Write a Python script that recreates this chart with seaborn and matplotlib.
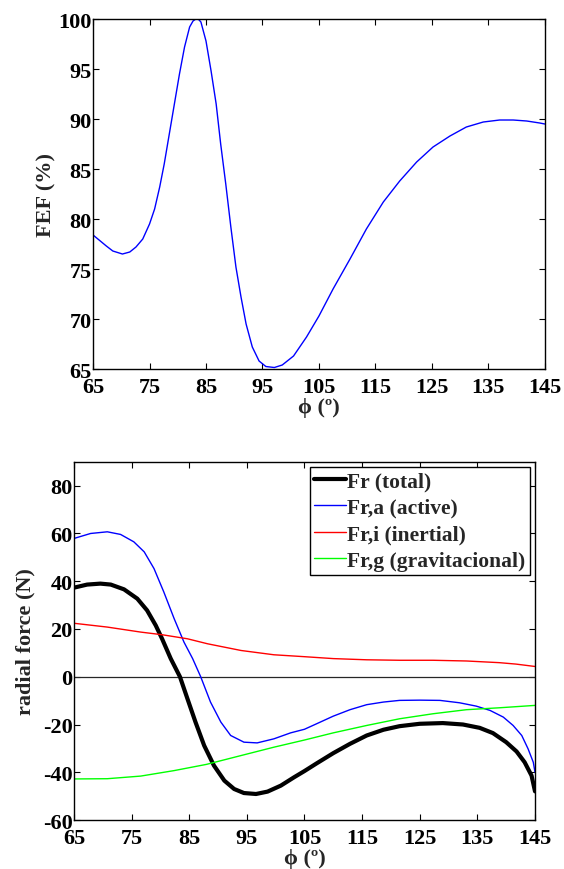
import numpy as np
import pandas as pd
import matplotlib
matplotlib.use("Agg")
import matplotlib.pyplot as plt
import seaborn as sns

# ---------------- data ----------------
phi_fef = [65, 67.35, 68.5, 70.2, 71.5, 72.6, 73.8, 75, 75.9, 76.8, 77.6, 78.5, 79.4,
           80.3, 81.2, 82.1, 82.7, 83.2, 83.7, 84.1, 85, 85.9, 86.8, 87.6, 88.5, 89.4,
           90.3, 91.2, 92.1, 93.2, 94.4, 95.6, 97.1, 98.5, 100.5, 102.8, 105, 107.5,
           110.5, 113.4, 116.4, 119.3, 122.3, 125.2, 128.2, 131.1, 134.1, 137, 139.4,
           141.8, 144.1, 145]
fef = [78.4, 77.3, 76.8, 76.5, 76.7, 77.2, 78.0, 79.5, 81.0, 83.2, 85.5, 88.5, 91.5,
       94.5, 97.2, 99.2, 99.8, 100.0, 99.95, 99.7, 97.8, 94.8, 91.5, 87.5, 83.5, 79.2,
       75.2, 72.2, 69.5, 67.2, 65.8, 65.25, 65.15, 65.4, 66.3, 68.2, 70.3, 73.0,
       76.0, 79.0, 81.7, 83.8, 85.7, 87.2, 88.3, 89.2, 89.7, 89.9, 89.9,
       89.8, 89.6, 89.5]

phi_total = [65, 67.3, 69.6, 71.4, 73.7, 76, 77.7, 79.2, 80.3, 81.8, 83.4, 84.7, 86.1,
             87.6, 89.3, 91.1, 92.8, 94.5, 96.6, 98.6, 100.9, 103.2, 105, 107.1, 110,
             112.9, 115.8, 118.7, 121.5, 125, 129, 132.5, 135.4, 137.7, 140, 141.8,
             143.2, 144.4, 145]
fr_total = [37.3, 38.6, 39.0, 38.6, 36.6, 32.7, 27.8, 21.5, 15.9, 7.6, 0.0, -9.2, -19.0,
            -28.8, -37.2, -43.5, -47.0, -48.7, -49.1, -48.1, -45.6, -42.1, -39.5, -36.3,
            -32.0, -28.1, -24.6, -22.2, -20.7, -19.7, -19.4, -20.0, -21.4, -23.6, -27.4,
            -31.3, -35.8, -41.4, -48.0]

phi_active = [65, 67.9, 70.8, 73.1, 75.4, 77.2, 78.9, 80.6, 82.4, 84.1, 85.6, 87, 88.7,
              90.5, 92.2, 94.5, 96.8, 99.7, 102.6, 105, 107.1, 110, 112.9, 115.8, 118.7,
              121.5, 125, 128.5, 131.9, 134.8, 137.2, 139.5, 141.2, 142.7, 143.8, 144.7,
              145]
fr_active = [57.9, 60.0, 60.7, 59.6, 56.5, 52.3, 45.3, 35.5, 24.3, 14.5, 7.6, 0.0, -10.6,
             -19.0, -24.6, -27.4, -27.7, -26.0, -23.5, -22.0, -19.7, -16.5, -13.8, -11.7,
             -10.6, -9.9, -9.8, -9.9, -10.9, -12.3, -14.1, -16.9, -20.4, -24.6, -30.2,
             -35.8, -40.0]

phi_inertial = [65, 70.8, 76.6, 80.3, 84.7, 88.2, 94, 99.7, 105, 110, 115.8, 121.5,
                127.3, 133.1, 138.8, 141.7, 145]
fr_inertial = [22.4, 20.8, 18.7, 17.6, 15.9, 13.8, 11.0, 9.2, 8.4, 7.6, 7.1, 6.9, 6.9,
               6.6, 5.9, 5.3, 4.3]

phi_grav = [65, 70.8, 76.6, 82.4, 88, 94, 99.7, 105, 110, 115.8, 121.5, 127.3, 133.1,
            138.8, 145]
fr_grav = [-42.8, -42.7, -41.6, -39.3, -36.7, -33.0, -29.5, -26.5, -23.5, -20.4, -17.6,
           -15.5, -13.8, -13.0, -12.0]

labels = ["Fr (total)", "Fr,a (active)", "Fr,i (inertial)", "Fr,g (gravitacional)"]
xticks = [65, 75, 85, 95, 105, 115, 125, 135, 145]
yticks_top = [65, 70, 75, 80, 85, 90, 95, 100]
yticks_bot = [-60, -40, -20, 0, 20, 40, 60, 80]

# ---------------- style ----------------
sns.set_theme(style="white")
plt.rcParams["font.family"] = ["Liberation Serif", "DejaVu Serif"]
plt.rcParams["font.weight"] = "bold"
plt.rcParams["axes.labelweight"] = "bold"
plt.rcParams["axes.edgecolor"] = "black"
plt.rcParams["axes.linewidth"] = 1.0
plt.rcParams["axes.unicode_minus"] = False
plt.rcParams["xtick.direction"] = "in"
plt.rcParams["ytick.direction"] = "in"

fig = plt.figure(figsize=(5.64, 8.70), dpi=100)
ax1 = fig.add_axes([0.165, 0.5747, 0.801, 0.4023])
ax2 = fig.add_axes([0.131, 0.0563, 0.8176, 0.4117])

TICKFS = 16
LABFS = 16

def style_axes(ax):
    ax.tick_params(axis="both", which="both", direction="in", top=True, right=True,
                   bottom=True, left=True, length=4, width=0.8, color="black",
                   labelsize=TICKFS, labelcolor="black")
    ax.tick_params(axis="x", pad=6)
    ax.tick_params(axis="y", pad=1)
    for lab in ax.get_xticklabels() + ax.get_yticklabels():
        lab.set_fontweight("bold")
    for s in ax.spines.values():
        s.set_visible(True)
        s.set_color("black")
        s.set_linewidth(1.0)

# ---------------- top ----------------
df1 = pd.DataFrame({"phi": phi_fef, "fef": fef})
sns.lineplot(data=df1, x="phi", y="fef", ax=ax1, color=(0, 0, 1), lw=1.0)
ax1.set_xlim(65, 145)
ax1.set_ylim(65, 100)
ax1.set_xticks(xticks)
ax1.set_yticks(yticks_top)
ax1.set_xlabel("ϕ (º)", fontsize=LABFS, fontweight="bold", labelpad=0)
ax1.set_ylabel("FEF (%)", fontsize=LABFS, fontweight="bold", labelpad=1)
style_axes(ax1)

# ---------------- bottom ----------------
series = [(phi_total, fr_total, "black", 3.0),
          (phi_active, fr_active, (0, 0, 1), 1.0),
          (phi_inertial, fr_inertial, (1, 0, 0), 1.0),
          (phi_grav, fr_grav, (0, 1, 0), 1.0)]
ax2.axhline(0, color="0.15", lw=0.9, zorder=1)
for (px, py, col, lw), lab in zip(series, labels):
    d = pd.DataFrame({"phi": px, "force": py})
    sns.lineplot(data=d, x="phi", y="force", ax=ax2, color=col, lw=lw, label=lab)
ax2.set_xlim(65, 145)
ax2.set_ylim(-60, 90)
ax2.set_xticks(xticks)
ax2.set_yticks(yticks_bot)
ax2.set_xlabel("ϕ (º)", fontsize=LABFS, fontweight="bold", labelpad=0)
ax2.set_ylabel("radial force (N)", fontsize=LABFS, fontweight="bold", labelpad=5)
style_axes(ax2)

leg = ax2.legend(loc="upper right", bbox_to_anchor=(1 - 5 / 461, 1 - 5 / 358),
                 borderaxespad=0, frameon=True, fancybox=False,
                 handlelength=1.5, handletextpad=0.05, labelspacing=0.3,
                 borderpad=0.2, prop={"weight": "bold", "size": 15.5})
leg.get_frame().set_edgecolor("black")
leg.get_frame().set_linewidth(1.0)
leg.get_frame().set_alpha(1)

fig.savefig("out.png", dpi=100)
